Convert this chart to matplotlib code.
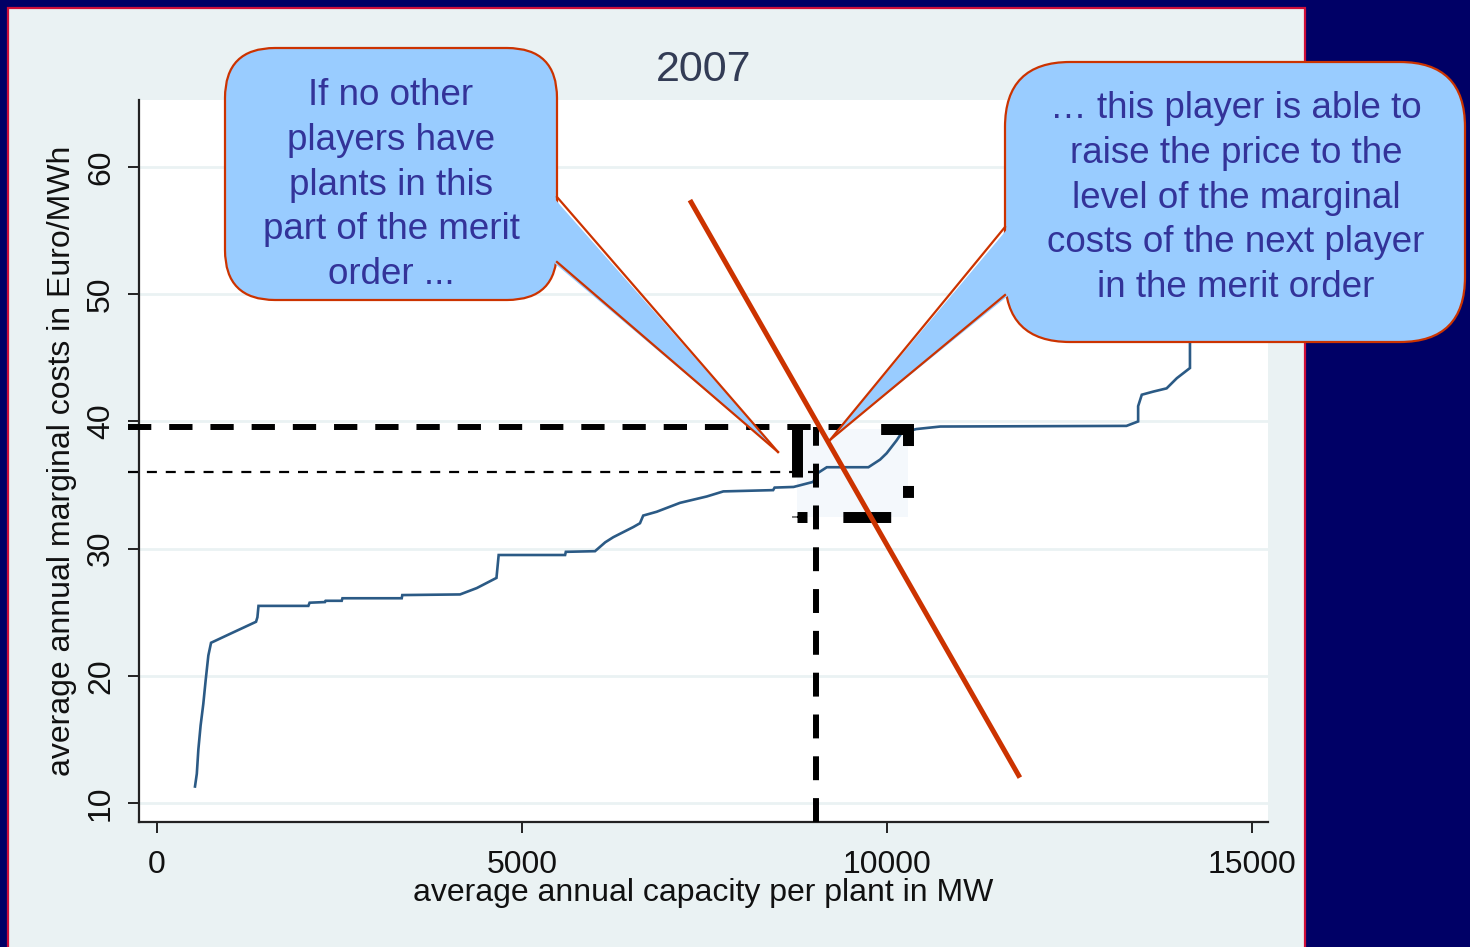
import matplotlib
matplotlib.use("Agg")
import matplotlib.pyplot as plt
from matplotlib.patches import Rectangle, FancyBboxPatch, Polygon
from matplotlib.lines import Line2D

plt.rcParams['font.family'] = ['Liberation Sans', 'DejaVu Sans']

# ---------------- data ----------------
title = "2007"
x_label = "average annual capacity per plant in MW"
y_label = "average annual marginal costs in Euro/MWh"
x_ticks = [0, 5000, 10000, 15000]
y_ticks = [10, 20, 30, 40, 50, 60]

# merit order curve (capacity MW, marginal cost EUR/MWh)
capacity = [520, 545, 566, 597, 634, 667, 703, 740, 1000, 1356, 1375, 1390,
            2073, 2090, 2300, 2310, 2530, 2540, 3352, 3360, 4151, 4380, 4650,
            4680, 5590, 5600, 6000, 6140, 6250, 6525, 6616, 6660, 6845, 7164,
            7530, 7758, 8440, 8460, 8720, 8990, 9040, 9175, 9745, 9905, 9995,
            10130, 10200, 10400, 10730, 13280, 13440, 13440, 13490, 13650,
            13830, 13970, 14150, 14150]
cost = [11.3, 12.3, 14.2, 16.1, 17.8, 19.7, 21.6, 22.6, 23.3, 24.25, 24.6, 25.5,
        25.5, 25.75, 25.8, 25.9, 25.9, 26.1, 26.1, 26.35, 26.4, 26.9, 27.7,
        29.5, 29.5, 29.75, 29.8, 30.5, 30.9, 31.7, 32.0, 32.6, 32.9, 33.6,
        34.1, 34.5, 34.6, 34.8, 34.85, 35.25, 35.9, 36.4, 36.4, 37.0, 37.5,
        38.5, 39.1, 39.4, 39.6, 39.65, 40.0, 41.2, 42.1, 42.35,
        42.6, 43.4, 44.2, 48.0]

# demand line (capacity, price)
demand_x = [7300, 11820]
demand_y = [57.4, 12.0]

# reference levels
price_high = 39.56
price_low = 36.0
capacity_mark = 9027
box_x = [8767, 10288]
box_y = [32.48, 39.40]
ref_x_start = -400

callout_left = "If no other\nplayers have\nplants in this\npart of the merit\norder ..."
callout_right = ("\u2026 this player is able to\nraise the price to the\nlevel of the marginal\n"
                 "costs of the next player\nin the merit order")

# ---------------- figure ----------------
W, H = 1470, 947
fig = plt.figure(figsize=(W / 100, H / 100), dpi=100)
fig.patch.set_facecolor('#000066')

# light panel with red border
panel = Rectangle((8 / W, -0.01), (1305 - 8) / W, (H - 8) / H + 0.01,
                  transform=fig.transFigure, facecolor='#eaf2f3',
                  edgecolor='#d0103a', linewidth=1.6, zorder=-5)
fig.add_artist(panel)

ax_l, ax_r, ax_t, ax_b = 139, 1268, 100, 822
ax = fig.add_axes([ax_l / W, (H - ax_b) / H, (ax_r - ax_l) / W, (ax_b - ax_t) / H])
ax.set_facecolor('white')
ax.set_xlim(-247, 15219)
ax.set_ylim(8.51, 65.27)

for s in ['top', 'right']:
    ax.spines[s].set_visible(False)
for s in ['left', 'bottom']:
    ax.spines[s].set_color('#222222')
    ax.spines[s].set_linewidth(1.6)

ax.set_xticks(x_ticks)
ax.set_yticks(y_ticks)
ax.set_xticklabels([str(t) for t in x_ticks])
ax.set_yticklabels([str(t) for t in y_ticks])
ax.tick_params(axis='both', length=8, width=1.4, color='#222222', labelsize=23,
               labelcolor='#111111')
ax.tick_params(axis='x', pad=12.5)
ax.tick_params(axis='y', pad=8.5, labelrotation=90)
for lab in ax.get_yticklabels():
    lab.set_va('center')
ax.grid(axis='y', color='#eaf2f3', linewidth=2)
ax.set_axisbelow(True)

ax.set_xlabel(x_label, fontsize=23, color='#111111')
ax.xaxis.set_label_coords(0.5, -(893 - ax_b) / (ax_b - ax_t))
ax.xaxis.label.set_va('center')
ax.set_ylabel(y_label, fontsize=23, color='#111111')
ax.yaxis.set_label_coords(-(ax_l - 62) / (ax_r - ax_l), 0.5)
ax.yaxis.label.set_va('center')

ax.text(0.5, (ax_b - 70) / (ax_b - ax_t), title, transform=ax.transAxes,
        ha='center', va='center', fontsize=31, color='#333c55')

# highlighted box fill
ax.add_patch(Rectangle((box_x[0], box_y[0]), box_x[1] - box_x[0], box_y[1] - box_y[0],
                       facecolor='#f4f8fc', edgecolor='none', zorder=2))

# curve
ax.plot(capacity, cost, color='#2b5a85', linewidth=1.9, zorder=3,
        solid_joinstyle='miter')

# reference dashed lines
ax.plot([ref_x_start, 9400], [price_high, price_high], color='black', lw=4.3,
        linestyle=(0, (3.9, 3.0)), clip_on=False, zorder=4)
ax.plot([ref_x_start, 9100], [price_low, price_low], color='black', lw=1.6,
        linestyle=(0, (4.5, 4.0)), clip_on=False, zorder=4)
ax.plot([capacity_mark, capacity_mark], [8.51, price_high], color='black', lw=4.3,
        linestyle=(0, (4.0, 3.0)), zorder=4)

# dashed box outline (irregular dash pattern, in linewidth units)
box_dash = (0, (0.91, 3.27, 4.36, 3.36, 1.09, 3.64, 4.0, 7.64, 4.36, 3.55))
ax.add_patch(Rectangle((box_x[0], box_y[0]), box_x[1] - box_x[0], box_y[1] - box_y[0],
                       facecolor='none', edgecolor='black', lw=7.9,
                       linestyle=box_dash, zorder=4))

# demand line
ax.plot(demand_x, demand_y, color='#cc3300', lw=3.6, zorder=6, clip_on=False,
        solid_capstyle='butt')

# ---------------- callouts (overlay in pixel space) ----------------
ov = fig.add_axes([0, 0, 1, 1], zorder=10)
ov.set_xlim(0, W)
ov.set_ylim(H, 0)
ov.axis('off')
ov.patch.set_alpha(0)

fill_c = '#99ccff'
edge_c = '#cc3300'
text_c = '#333399'


def callout(x0, y0, x1, y1, rad, tail_base, tail_tip, side):
    ov.add_patch(FancyBboxPatch((x0, y0), x1 - x0, y1 - y0,
                                boxstyle=f"round,pad=0,rounding_size={rad}",
                                facecolor=fill_c, edgecolor=edge_c, lw=1.6, zorder=1))
    bx = x1 if side == 'right' else x0
    inset = -4 if side == 'right' else 4
    (ya, yb) = tail_base
    ov.add_patch(Polygon([(bx + inset, ya), (bx + inset, yb), tail_tip],
                         closed=True, facecolor=fill_c, edgecolor='none', zorder=2))
    ov.add_line(Line2D([bx, tail_tip[0]], [ya, tail_tip[1]], color=edge_c, lw=1.6, zorder=3))
    ov.add_line(Line2D([bx, tail_tip[0]], [yb, tail_tip[1]], color=edge_c, lw=1.6, zorder=3))


callout(225, 48, 557, 300, 50, (197, 262), (778, 452), 'right')
callout(1005, 62, 1465, 342, 65, (227, 295), (830, 440), 'left')

ov.text(391, 185, callout_left, ha='center', va='center', fontsize=26.5,
        color=text_c, linespacing=1.36, zorder=4)
ov.text(1236, 198, callout_right, ha='center', va='center', fontsize=26.5,
        color=text_c, linespacing=1.36, zorder=4)

fig.savefig('out.png', dpi=100, facecolor=fig.get_facecolor())
